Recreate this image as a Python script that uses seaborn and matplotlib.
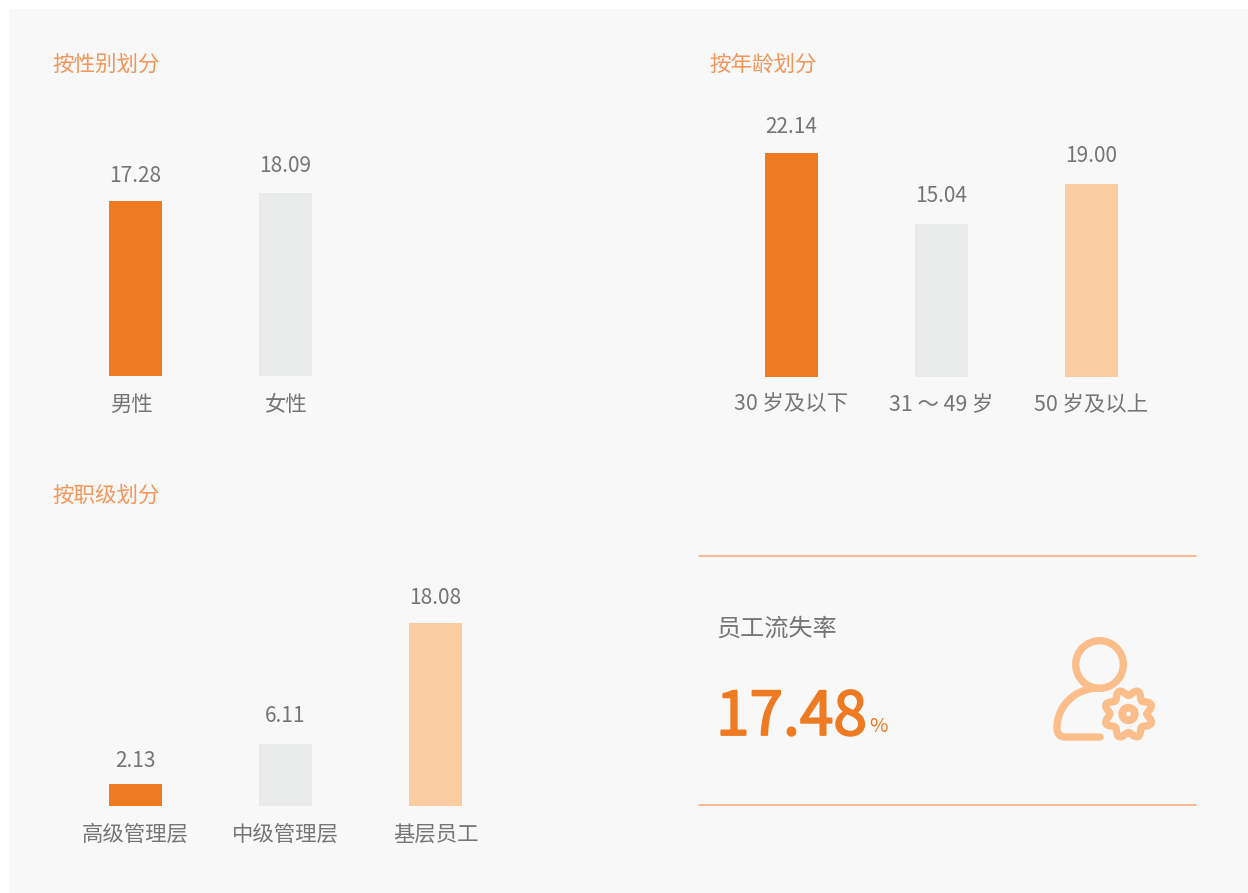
import numpy as np
import pandas as pd
import matplotlib
matplotlib.use("Agg")
import matplotlib.pyplot as plt
import matplotlib.patheffects as pe
from matplotlib.patches import Circle, PathPatch, Rectangle
from matplotlib.path import Path
from matplotlib.transforms import ScaledTranslation
import seaborn as sns

W, H = 1248, 893

gender_labels = ["男性", "女性"]
gender_values = [17.28, 18.09]
age_labels = ["30 岁及以下", "31 ～ 49 岁", "50 岁及以上"]
age_values = [22.14, 15.04, 19.00]
rank_labels = ["高级管理层", "中级管理层", "基层员工"]
rank_values = [2.13, 6.11, 18.08]
panel_titles = ["按性别划分", "按年龄划分", "按职级划分"]
kpi_label = "员工流失率"
kpi_value = "17.48"

ORANGE = "#EE7A22"
GREY = "#E9EBEA"
PEACH = "#F9CCA2"
BG = "#F8F8F8"
TITLE = "#F2965A"
TEXT = "#757575"
ICON = "#FBBE8A"
LINE = "#F3AB78"

sns.set_theme(style="white")
plt.rcParams["font.family"] = ["Noto Sans CJK SC", "DejaVu Sans"]

fig = plt.figure(figsize=(W / 100, H / 100), dpi=100, facecolor="white")

# overlay in pixel coords for panel, titles, kpi block and icon
bg = fig.add_axes([0, 0, 1, 1], zorder=0)
bg.set_xlim(0, W)
bg.set_ylim(H, 0)
bg.axis("off")
bg.add_patch(Rectangle((9, 9), W - 9, H - 9, color=BG, lw=0))


def bar_panel(labels, values, first_x, base_y, colors, scale, gaps, pad=13):
    # one category = 150 px, scale = px per value unit, gaps = label centre above bar in px
    left = first_x - 75
    height = 270
    ax = fig.add_axes([left / W, 1 - base_y / H, 450 / W, height / H], zorder=1)
    df = pd.DataFrame({"label": labels, "value": values})
    sns.barplot(data=df, x="label", y="value", hue="label", order=labels,
                palette=colors, width=53 / 150, legend=False, saturation=1,
                linewidth=0, edgecolor="none", ax=ax)
    ax.set_xlim(-0.5, 2.5)
    ax.set_ylim(0, height / scale)
    ax.patch.set_alpha(0)
    sns.despine(ax=ax, left=True, bottom=True)
    ax.set_xlabel("")
    ax.set_ylabel("")
    ax.set_yticks([])
    ax.tick_params(axis="x", length=0, pad=pad, labelsize=15.4, labelcolor=TEXT)
    for i, c in enumerate(ax.containers):
        for t in ax.bar_label(c, fmt="%.2f", fontsize=15, color=TEXT):
            t.xyann = (0, (gaps[i] - 13.2) * 0.72)
    return ax


ax1 = bar_panel(gender_labels, gender_values, 135.5, 376, [ORANGE, GREY], 10.13, [27, 29])
bar_panel(age_labels, age_values, 791.5, 377, [ORANGE, GREY, PEACH], 10.14, [28, 31, 31], pad=11.7)
bar_panel(rank_labels, rank_values, 135.5, 806, [ORANGE, GREY, PEACH], 10.13, [26, 30, 27])

# first label of the gender panel sits left of its bar in the original
first = ax1.get_xticklabels()[0]
first.set_transform(first.get_transform() + ScaledTranslation(-4.5 / 100, 0, fig.dpi_scale_trans))

for txt, x, y in zip(panel_titles, [52.5, 709.5, 52.5], [65, 65, 496]):
    bg.text(x, y, txt, color=TITLE, fontsize=15.5, va="center", ha="left")

# kpi block
for y in [556, 805]:
    bg.plot([699, 1196], [y, y], color=LINE, lw=1.1)
bg.text(716.5, 629, kpi_label, color=TEXT, fontsize=17.4, va="center", ha="left")
big = bg.text(716, 735, kpi_value, color=ORANGE, fontsize=43.5, va="baseline", ha="left")
big.set_path_effects([pe.withStroke(linewidth=1.3, foreground=ORANGE)])
bg.text(869, 732, "%", color=ORANGE, fontsize=14.5, va="baseline", ha="left")

# person + gear icon
stroke = 5.3
bg.add_patch(Circle((1099.5, 664.5), 23.8, fill=False, ec=ICON, lw=stroke))
body = Path([(1099, 688), (1075, 688), (1057, 706), (1057, 728), (1057, 734), (1060, 737), (1065, 737), (1100, 737)],
            [Path.MOVETO, Path.CURVE4, Path.CURVE4, Path.CURVE4, Path.CURVE4, Path.CURVE4, Path.CURVE4, Path.LINETO])
bg.add_patch(PathPatch(body, fill=False, ec=ICON, lw=stroke, capstyle="round"))
theta = np.linspace(0, 2 * np.pi, 400)
r = 21.5 + 3.0 * np.cos(8 * (theta - np.pi / 8))
bg.plot(1128.5 + r * np.cos(theta), 714 + r * np.sin(theta), color=ICON, lw=stroke)
bg.add_patch(Circle((1128.5, 714), 6.3, fill=False, ec=ICON, lw=5.6))

plt.savefig("out.png", dpi=100)
